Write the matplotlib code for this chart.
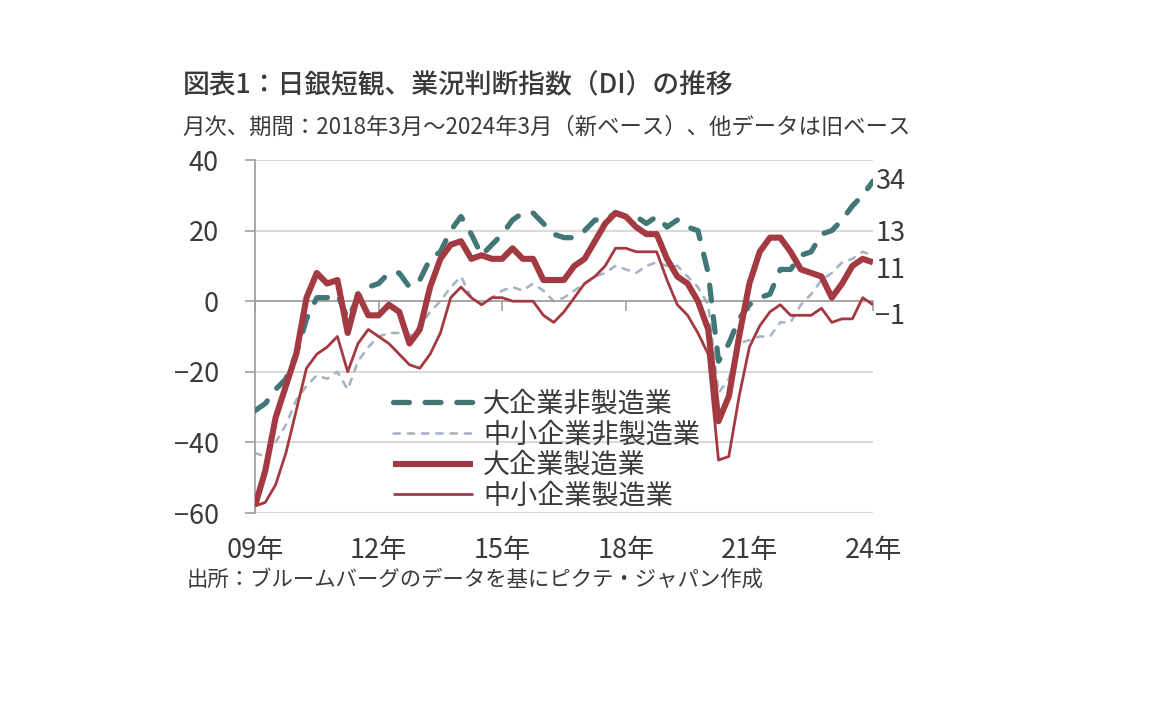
import numpy as np
import matplotlib
matplotlib.use("Agg")
import matplotlib.pyplot as plt

plt.rcParams['font.family'] = ['Noto Sans CJK JP', 'DejaVu Sans']

# 日銀短観 業況判断DI (四半期, 2009年3月～2024年3月)
start_year = 2009
quarters = np.arange(61) / 4 + start_year

large_nonmfg = [-31, -29, -25, -22,
                -15, -5, 1, 1,
                2, -5, 1, 4,
                5, 8, 8, 4,
                6, 12, 14, 20,
                24, 19, 13, 16,
                19, 23, 25, 25,
                22, 19, 18, 18,
                20, 23, 23, 25,
                24, 24, 22, 24,
                21, 23, 21, 20,
                8, -17, -12, -5,
                -1, 1, 2, 9,
                9, 13, 14, 19,
                20, 23, 27, 30,
                34]

small_nonmfg = [-43, -44, -40, -35,
                -28, -24, -21, -22,
                -20, -25, -17, -13,
                -10, -9, -9, -10,
                -7, -3, 0, 4,
                7, 1, -1, 1,
                3, 4, 3, 5,
                3, 0, 1, 3,
                5, 7, 8, 10,
                9, 8, 10, 11,
                10, 10, 7, 4,
                -1, -26, -22, -12,
                -11, -10, -10, -6,
                -6, -1, 2, 6,
                8, 11, 12, 14,
                13]

large_mfg = [-58, -48, -33, -24,
             -15, 1, 8, 5,
             6, -9, 2, -4,
             -4, -1, -3, -12,
             -8, 4, 12, 16,
             17, 12, 13, 12,
             12, 15, 12, 12,
             6, 6, 6, 10,
             12, 17, 22, 25,
             24, 21, 19, 19,
             12, 7, 5, 0,
             -8, -34, -27, -10,
             5, 14, 18, 18,
             14, 9, 8, 7,
             1, 5, 10, 12,
             11]

small_mfg = [-58, -57, -52, -43,
             -31, -19, -15, -13,
             -10, -20, -12, -8,
             -10, -12, -15, -18,
             -19, -15, -9, 1,
             4, 1, -1, 1,
             1, 0, 0, 0,
             -4, -6, -3, 1,
             5, 7, 10, 15,
             15, 14, 14, 14,
             6, -1, -4, -9,
             -15, -45, -44, -27,
             -13, -7, -3, -1,
             -4, -4, -4, -2,
             -6, -5, -5, 1,
             -1]

series_names = ['大企業非製造業', '中小企業非製造業', '大企業製造業', '中小企業製造業']
year_ticks = [2009, 2012, 2015, 2018, 2021, 2024]
year_labels = ['09年', '12年', '15年', '18年', '21年', '24年']
y_ticks = [-60, -40, -20, 0, 20, 40]
# vertical nudges for end labels so they do not overlap
end_label_shift = [0, 6.2, -2.3, -3.3]

TEAL = '#417777'
LIGHT = '#A7B4C6'
RED = '#A33A42'
TEXT = '#3A3A3A'
NUM_FONT = ['Liberation Sans Narrow', 'Noto Sans CJK JP']

fig = plt.figure(figsize=(11.52, 7.2), dpi=100)
ax = fig.add_axes([255 / 1152, 1 - 513 / 720, 618 / 1152, 353 / 720])

styles = [
    dict(color=TEAL, lw=3.8, dashes=(3, 3), dash_capstyle='round', zorder=3),
    dict(color=LIGHT, lw=1.9, dashes=(2.4, 3.0), dash_capstyle='round', zorder=2),
    dict(color=RED, lw=4.4, solid_capstyle='butt', zorder=5),
    dict(color=RED, lw=2.0, solid_capstyle='butt', zorder=4),
]
all_series = [large_nonmfg, small_nonmfg, large_mfg, small_mfg]

handles = []
for vals, name, st in zip(all_series, series_names, styles):
    line, = ax.plot(quarters, vals, label=name, solid_joinstyle='round', **st)
    handles.append(line)

ax.set_xlim(2009, 2024)
ax.set_ylim(-60, 40)

# grid
for v in y_ticks:
    if v != 0:
        ax.axhline(v, color='#D9D9D9', lw=1.5, zorder=0)

for side in ['top', 'right']:
    ax.spines[side].set_visible(False)
ax.spines['left'].set_color('#A0A0A0')
ax.spines['left'].set_linewidth(1.3)
ax.spines['bottom'].set_position(('data', 0))
ax.spines['bottom'].set_color('#A0A0A0')
ax.spines['bottom'].set_linewidth(1.3)

ax.set_yticks(y_ticks)
ax.set_yticklabels([str(v).replace('-', '\u2212') for v in y_ticks],
                   family=NUM_FONT, fontsize=19.5, color=TEXT)
ax.tick_params(axis='y', direction='out', length=7, width=1.2,
               color='#A0A0A0', pad=19)
ax.set_xticks(year_ticks)
ax.set_xticklabels([])
ax.tick_params(axis='x', direction='out', length=7, width=1.2, color='#A0A0A0')

for yr, lab in zip(year_ticks, year_labels):
    ax.text(yr, -0.107, lab, transform=ax.get_xaxis_transform(),
            ha='center', va='center', fontsize=19.5, color=TEXT,
            family=NUM_FONT)

# end values
for vals, shift in zip(all_series, end_label_shift):
    last = vals[-1]
    ax.text(1.004, last + shift, str(last).replace('-', '\u2212'),
            transform=ax.get_yaxis_transform(), ha='left', va='center',
            fontsize=19.5, color=TEXT, family=NUM_FONT)

ax.legend(handles=handles, loc='upper left', bbox_to_anchor=(0.2233, 0.347),
          frameon=False, fontsize=19.5, handlelength=2.95, handletextpad=0.37,
          labelspacing=0.14, borderpad=0, borderaxespad=0, labelcolor=TEXT)

fig.text(183 / 1152, 1 - 86 / 720, '図表1：日銀短観、業況判断指数（DI）の推移',
         fontsize=19.3, fontweight='medium', color=TEXT, va='center', ha='left')
fig.text(182 / 1152, 1 - 127 / 720,
         '月次、期間：2018年3月～2024年3月（新ベース）、他データは旧ベース',
         fontsize=16.1, color=TEXT, va='center', ha='left')
fig.text(187 / 1152, 1 - 580 / 720, '出所：ブルームバーグのデータを基にピクテ・ジャパン作成',
         fontsize=15.4, color=TEXT, va='center', ha='left')

fig.savefig('out.png', dpi=100, facecolor='white')
